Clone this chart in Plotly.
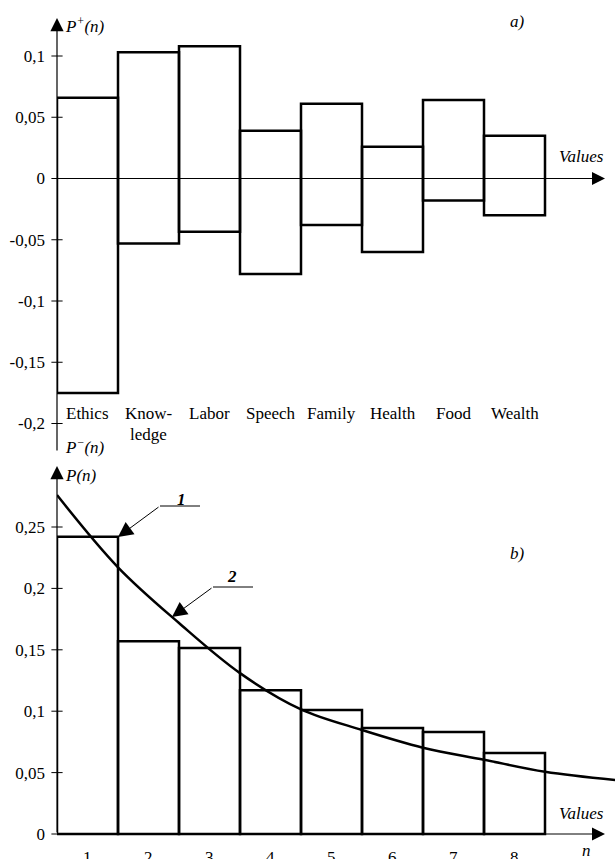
import plotly.graph_objects as go

# ---------------- data ----------------
categories = ["Ethics", "Know-", "Labor", "Speech", "Family", "Health", "Food", "Wealth"]
categories_line2 = ["", "ledge", "", "", "", "", "", ""]
p_plus = [0.066, 0.103, 0.108, 0.039, 0.061, 0.026, 0.064, 0.035]
p_minus = [-0.175, -0.053, -0.0435, -0.078, -0.038, -0.060, -0.018, -0.030]

n_values = [1, 2, 3, 4, 5, 6, 7, 8]
p_hist = [0.242, 0.157, 0.1515, 0.117, 0.101, 0.0864, 0.083, 0.066]

curve_n = [0.5, 1.5, 2.5, 3.5, 4.5, 5.5, 6.5, 7.5, 8.5, 9.65]
curve_p = [0.276, 0.2172, 0.1718, 0.131, 0.1015, 0.0847, 0.0703, 0.0605, 0.0507, 0.044]

top_ticks = [0.1, 0.05, 0, -0.05, -0.1, -0.15, -0.2]
top_tick_text = ["0,1", "0,05", "0", "-0,05", "-0,1", "-0,15", "-0,2"]
bot_ticks = [0.25, 0.2, 0.15, 0.1, 0.05, 0]
bot_tick_text = ["0,25", "0,2", "0,15", "0,1", "0,05", "0"]

# ---------------- layout geometry ----------------
W, H = 615, 859
X0 = 57          # pixel of y-axis
BIN = 61.0       # pixel width of one category
SPLIT = 460      # pixel row separating the two panels
TOP_ZERO, TOP_SCALE = 178.5, 1225.0
BOT_ZERO, BOT_SCALE = 834.0, 1228.0

def fx(px):
    return px / W

def fy(py):
    return 1 - py / H

def tx(px):
    return 0.5 + (px - X0) / BIN

def ty(py):
    return (TOP_ZERO - py) / TOP_SCALE

def by(py):
    return (BOT_ZERO - py) / BOT_SCALE

xrange = [0.5, tx(W)]
FONT = "Liberation Serif, Tinos, Times New Roman, serif"
BLACK = "black"

fig = go.Figure()

# top panel: bars from P-(n) to P+(n)
fig.add_trace(go.Bar(
    x=n_values, y=[t - b for t, b in zip(p_plus, p_minus)], base=p_minus, width=1,
    marker=dict(color="rgba(0,0,0,0)", line=dict(color=BLACK, width=2.5)),
    xaxis="x", yaxis="y", hoverinfo="skip"))
fig.add_trace(go.Scatter(
    x=[0.5] * len(top_ticks), y=top_ticks, mode="markers",
    marker=dict(symbol="line-ew", size=8, line=dict(color=BLACK, width=1)),
    cliponaxis=False, xaxis="x", yaxis="y", hoverinfo="skip"))

# bottom panel: histogram + fitted curve
fig.add_trace(go.Bar(
    x=n_values, y=p_hist, width=1,
    marker=dict(color="rgba(0,0,0,0)", line=dict(color=BLACK, width=2.5)),
    xaxis="x2", yaxis="y2", hoverinfo="skip"))
fig.add_trace(go.Scatter(
    x=curve_n, y=curve_p, mode="lines",
    line=dict(color=BLACK, width=2.5, shape="spline", smoothing=1.0),
    xaxis="x2", yaxis="y2", hoverinfo="skip"))
fig.add_trace(go.Scatter(
    x=[0.5] * len(bot_ticks), y=bot_ticks, mode="markers",
    marker=dict(symbol="line-ew", size=8, line=dict(color=BLACK, width=1)),
    cliponaxis=False, xaxis="x2", yaxis="y2", hoverinfo="skip"))

ann = []

def arrow(x, y, ax, ay, xr, yr, width=1.2, size=2.2):
    ann.append(dict(x=x, y=y, ax=ax, ay=ay, xref=xr, yref=yr, axref=xr, ayref=yr,
                    text="", showarrow=True, arrowhead=2, arrowsize=size,
                    arrowwidth=width, arrowcolor=BLACK, standoff=0, startstandoff=0))

def text(px, py, s, size=17, xanchor="center", yanchor="middle", italic=True, bold=False):
    t = s
    if bold:
        t = "<b>" + t + "</b>"
    if italic:
        t = "<i>" + t + "</i>"
    ann.append(dict(x=fx(px), y=fy(py), xref="paper", yref="paper", text=t,
                    showarrow=False, xanchor=xanchor, yanchor=yanchor,
                    font=dict(family=FONT, size=size, color=BLACK)))

# axes of top panel
arrow(tx(605), 0, 0.5, 0, "x", "y", width=1.0, size=2.6)
arrow(0.5, ty(18), 0.5, ty(452), "x", "y", width=1.2, size=2.2)
# axes of bottom panel
arrow(tx(605), 0, 0.5, 0, "x2", "y2", width=1.0, size=2.6)
arrow(0.5, by(466), 0.5, 0, "x2", "y2", width=1.2, size=2.2)

# leaders 1 and 2
arrow(tx(118), by(537), tx(160), by(506), "x2", "y2", width=1.0, size=3.0)
arrow(tx(172), by(617), tx(213), by(587), "x2", "y2", width=1.0, size=3.0)

shapes = [
    dict(type="line", xref="x2", yref="y2", x0=tx(160), x1=tx(200), y0=by(506), y1=by(506),
         line=dict(color=BLACK, width=1)),
    dict(type="line", xref="x2", yref="y2", x0=tx(213), x1=tx(253), y0=by(587), y1=by(587),
         line=dict(color=BLACK, width=1)),
]

text(181, 499, "1", bold=True)
text(232, 576, "2", bold=True)

# labels
text(63, 25, "P<sup>+</sup>(n)", xanchor="left")
text(517, 22, "a)")
text(581, 157, "Values")
text(63, 446, "P<sup>−</sup>(n)", xanchor="left")
text(63, 476, "P(n)", xanchor="left")
text(517, 553, "b)")
text(581, 813, "Values")
text(586, 850, "n")

for i, (c1, c2) in enumerate(zip(categories, categories_line2)):
    px = X0 + (n_values[i] - 0.5) * BIN
    text(px, 413, c1, italic=False)
    if c2:
        text(px, 434, c2, italic=False)

for n in n_values:
    px = X0 + (n - 0.5) * BIN
    text(px, 846, str(n), italic=False, yanchor="top")

axis_common = dict(showgrid=False, zeroline=False, showline=False, fixedrange=True)

fig.update_layout(
    width=W, height=H, margin=dict(l=0, r=0, t=0, b=0),
    paper_bgcolor="white", plot_bgcolor="white", showlegend=False,
    font=dict(family=FONT, color=BLACK),
    xaxis=dict(domain=[fx(X0), 1], range=xrange, visible=False, anchor="y", **axis_common),
    yaxis=dict(domain=[fy(SPLIT), 1], range=[ty(SPLIT), ty(0)], anchor="x",
               tickvals=top_ticks, ticktext=top_tick_text, ticks="",
               ticklabelstandoff=11,
               tickfont=dict(family=FONT, size=17, color=BLACK), **axis_common),
    xaxis2=dict(domain=[fx(X0), 1], range=xrange, visible=False, anchor="y2", **axis_common),
    yaxis2=dict(domain=[0, fy(SPLIT)], range=[by(H), by(SPLIT)], anchor="x2",
                tickvals=bot_ticks, ticktext=bot_tick_text, ticks="",
                ticklabelstandoff=11,
                tickfont=dict(family=FONT, size=17, color=BLACK), **axis_common),
    annotations=ann, shapes=shapes,
)

fig.write_html(
    "out.html",
    config={"displayModeBar": False},
    post_script="document.body.style.margin='0';document.body.style.overflow='hidden';",
)
